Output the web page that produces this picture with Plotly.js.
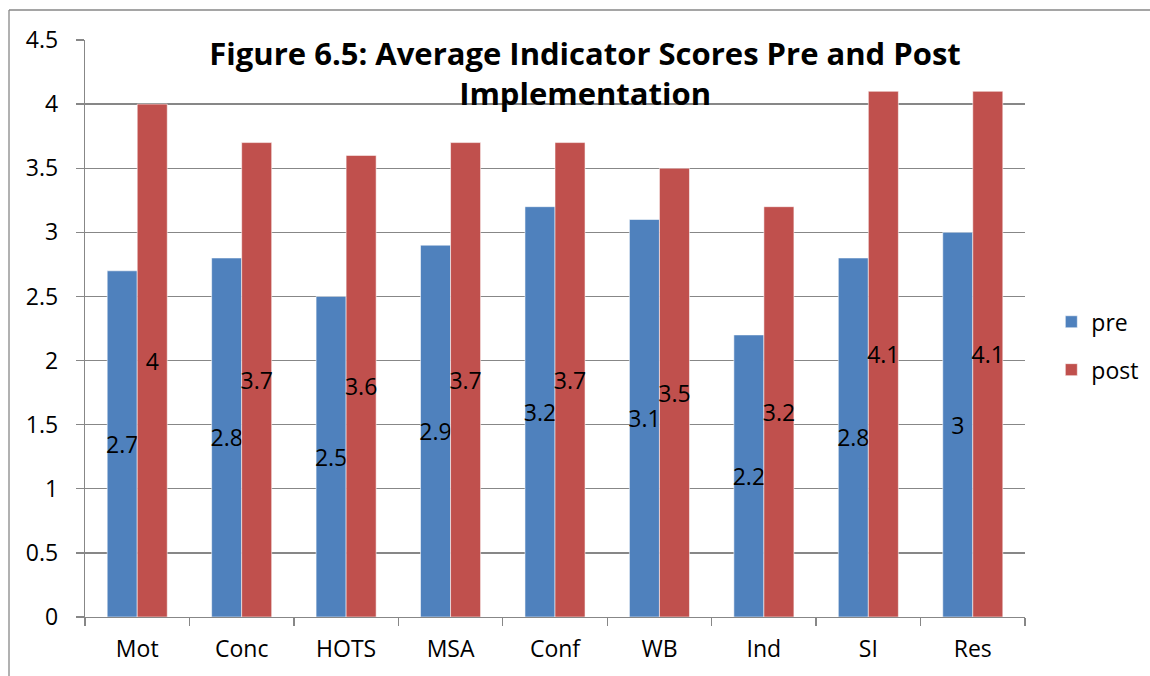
<!DOCTYPE html>
<html>
<head>
<meta charset="utf-8">
<script src="https://cdn.plot.ly/plotly-3.0.1.min.js"></script>
<style>html,body{margin:0;padding:0;background:#fff;}#chart{width:1150px;height:676px;}</style>
</head>
<body>
<div id="chart"></div>
<script>
const categories = ["Mot", "Conc", "HOTS", "MSA", "Conf", "WB", "Ind", "SI", "Res"];
const preValues = [2.7, 2.8, 2.5, 2.9, 3.2, 3.1, 2.2, 2.8, 3.0];
const postValues = [4.0, 3.7, 3.6, 3.7, 3.7, 3.5, 3.2, 4.1, 4.1];
const seriesNames = ["pre", "post"];
const yTicks = [0, 0.5, 1, 1.5, 2, 2.5, 3, 3.5, 4, 4.5];
const yTickLabels = ["0", "0.5", "1", "1.5", "2", "2.5", "3", "3.5", "4", "4.5"];

const FONT = "'Open Sans', Lato, sans-serif";
const labelFont = {family: FONT, size: 23, color: "#000"};

function barTrace(name, vals, color, group) {
  return {
    type: "bar", name: name, x: categories, y: vals,
    legendgroup: group,
    marker: {color: color, line: {color: "rgba(255,255,255,0.55)", width: 1}},
    text: vals.map(v => String(v)),
    textposition: "inside", insidetextanchor: "middle",
    textangle: 0, constraintext: "none", cliponaxis: false,
    insidetextfont: labelFont, textfont: labelFont,
    hoverinfo: "x+y"
  };
}

const data = [
  barTrace(seriesNames[0], preValues, "#4F81BD", "g1"),
  barTrace(seriesNames[1], postValues, "#C0504D", "g2")
];

const layout = {
  width: 1150, height: 676,
  margin: {l: 85, r: 125, t: 40, b: 59, autoexpand: false},
  paper_bgcolor: "#fff", plot_bgcolor: "#fff",
  font: {family: FONT, size: 22, color: "#000"},
  barmode: "group", bargap: 0.425, bargroupgap: 0,
  title: {
    text: "<b>Figure 6.5: Average Indicator Scores Pre and Post<br>Implementation</b>",
    font: {family: FONT, size: 31, color: "#000"},
    xref: "paper", x: 0.532, xanchor: "center",
    yref: "container", y: 1 - 65/676, yanchor: "top"
  },
  xaxis: {
    type: "category", tickson: "boundaries",
    ticks: "outside", ticklen: 8, tickwidth: 1.3, tickcolor: "#878787",
    showgrid: false, showline: true, linecolor: "#878787", linewidth: 1.3,
    tickfont: {family: FONT, size: 23, color: "#000"},
    ticklabelstandoff: 11, fixedrange: true
  },
  yaxis: {
    range: [0, 4.5], tickvals: yTicks, ticktext: yTickLabels,
    ticks: "outside", ticklen: 8, tickwidth: 1.3, tickcolor: "#878787",
    showgrid: true, gridcolor: "#878787", gridwidth: 1.3,
    showline: true, linecolor: "#878787", linewidth: 1.3,
    zeroline: false,
    tickfont: {family: FONT, size: 23, color: "#000"},
    ticklabelstandoff: 13, fixedrange: true
  },
  legend: {
    x: 1.028, xanchor: "left", y: 0.47, yanchor: "middle",
    font: {family: FONT, size: 23, color: "#000"},
    tracegroupgap: 15, itemwidth: 30, bgcolor: "rgba(0,0,0,0)"
  },
  shapes: [
    {type: "line", xref: "paper", yref: "paper",
     x0: (9 - 85)/940, x1: (1150 - 85)/940, y0: (617 - 10)/577, y1: (617 - 10)/577,
     line: {color: "#878787", width: 1.3}},
    {type: "line", xref: "paper", yref: "paper",
     x0: (9 - 85)/940, x1: (9 - 85)/940, y0: (617 - 10)/577, y1: (617 - 680)/577,
     line: {color: "#878787", width: 1.3}}
  ],
  showlegend: true
};

Plotly.newPlot("chart", data, layout, {displayModeBar: false, staticPlot: true});
</script>
</body>
</html>
